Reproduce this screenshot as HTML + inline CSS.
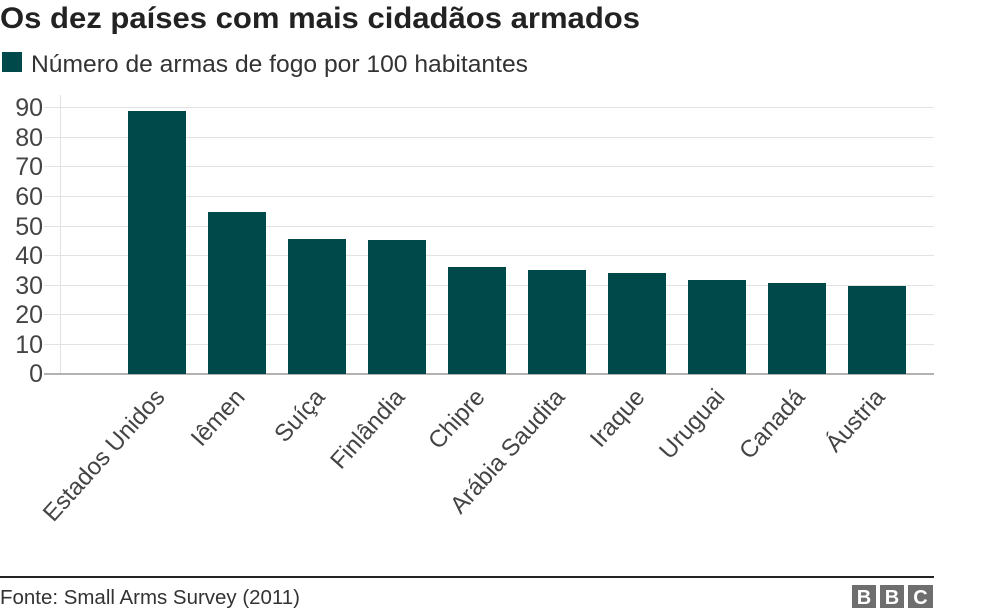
<!DOCTYPE html>
<html><head><meta charset="utf-8"><style>
html,body{margin:0;padding:0;background:#fff;width:984px;height:615px;overflow:hidden}
svg{display:block;font-family:"Liberation Sans",Arial,sans-serif}
</style></head><body>
<svg width="984" height="615" viewBox="0 0 984 615">
<text x="0" y="28" font-size="30" font-weight="bold" fill="#222" textLength="640" lengthAdjust="spacingAndGlyphs">Os dez países com mais cidadãos armados</text>
<rect x="2" y="52" width="20" height="20" fill="#00494a"/>
<text x="31" y="72" font-size="24" fill="#333" textLength="497" lengthAdjust="spacingAndGlyphs">Número de armas de fogo por 100 habitantes</text>
<g stroke="#e2e2e2" stroke-width="1">
<line x1="44" x2="934" y1="107.5" y2="107.5"/><line x1="44" x2="934" y1="137.5" y2="137.5"/>
<line x1="44" x2="934" y1="166.5" y2="166.5"/><line x1="44" x2="934" y1="196.5" y2="196.5"/>
<line x1="44" x2="934" y1="226.5" y2="226.5"/><line x1="44" x2="934" y1="255.5" y2="255.5"/>
<line x1="44" x2="934" y1="285.5" y2="285.5"/><line x1="44" x2="934" y1="314.5" y2="314.5"/>
<line x1="44" x2="934" y1="344.5" y2="344.5"/>
<line x1="60.5" x2="60.5" y1="95" y2="374"/>
</g>
<line x1="44" x2="934" y1="374" y2="374" stroke="#999" stroke-width="1.5"/>
<g font-size="25" fill="#444" text-anchor="end">
<text x="43" y="116">90</text><text x="43" y="146">80</text><text x="43" y="175">70</text>
<text x="43" y="205">60</text><text x="43" y="235">50</text><text x="43" y="264">40</text>
<text x="43" y="294">30</text><text x="43" y="323">20</text><text x="43" y="353">10</text>
<text x="43" y="382">0</text>
</g>
<g fill="#00494a">
<rect x="128" y="111" width="58" height="263"/>
<rect x="208" y="212" width="58" height="162"/>
<rect x="288" y="239" width="58" height="135"/>
<rect x="368" y="240" width="58" height="134"/>
<rect x="448" y="267" width="58" height="107"/>
<rect x="528" y="270" width="58" height="104"/>
<rect x="608" y="273" width="58" height="101"/>
<rect x="688" y="280" width="58" height="94"/>
<rect x="768" y="283" width="58" height="91"/>
<rect x="848" y="286" width="58" height="88"/>
</g>
<g font-size="24" fill="#444" text-anchor="end">
<text transform="translate(166,398) rotate(-48)">Estados Unidos</text>
<text transform="translate(246,398) rotate(-48)">Iêmen</text>
<text transform="translate(326,398) rotate(-48)">Suíça</text>
<text transform="translate(406,398) rotate(-48)">Finlândia</text>
<text transform="translate(486,398) rotate(-48)">Chipre</text>
<text transform="translate(566,398) rotate(-48)">Arábia Saudita</text>
<text transform="translate(646,398) rotate(-48)">Iraque</text>
<text transform="translate(726,398) rotate(-48)">Uruguai</text>
<text transform="translate(806,398) rotate(-48)">Canadá</text>
<text transform="translate(886,398) rotate(-48)">Áustria</text>
</g>
<line x1="0" x2="934" y1="577" y2="577" stroke="#222" stroke-width="2"/>
<text x="0" y="604" font-size="20" fill="#333" textLength="300" lengthAdjust="spacingAndGlyphs">Fonte: Small Arms Survey (2011)</text>
<g fill="#6e6e6e"><rect x="852" y="585" width="24" height="23"/><rect x="880" y="585" width="24" height="23"/><rect x="908" y="585" width="25" height="23"/></g>
<g fill="#fff" font-size="20" font-weight="bold" text-anchor="middle">
<text x="864" y="604">B</text><text x="892" y="604">B</text><text x="920.5" y="604">C</text></g>
</svg>
</body></html>
